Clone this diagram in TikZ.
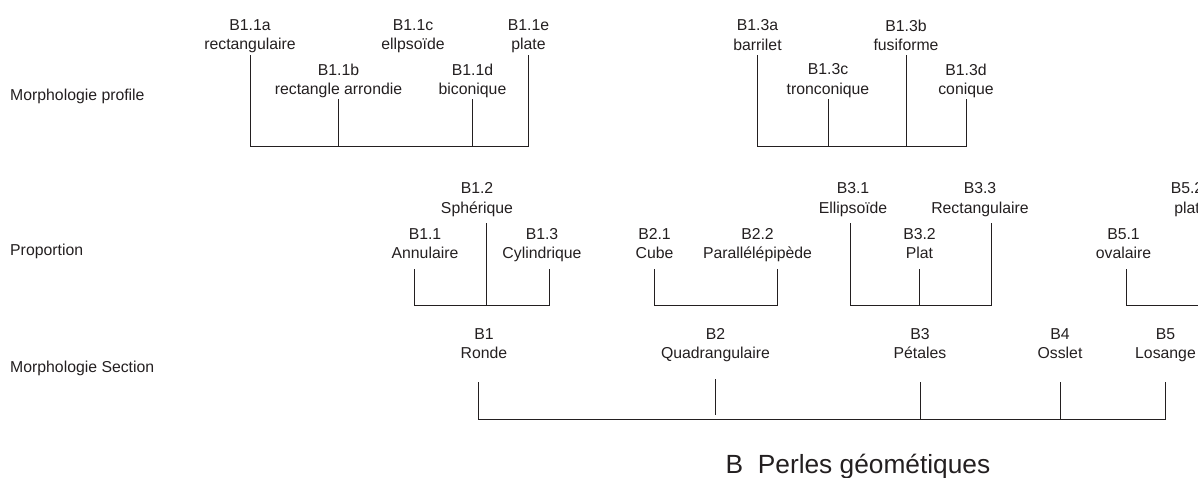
\documentclass[tikz,border=0pt]{standalone}
\usepackage{fontspec}
\setmainfont{Liberation Sans}
\usepackage{tikz}
\usetikzlibrary{calc}
\newcommand{\perlefont}{\fontsize{15.8}{19.5}\selectfont}
\newcommand{\titrefont}{\fontsize{26.3}{30}\selectfont}
\definecolor{encre}{RGB}{35,31,32}
\tikzstyle{rowlabel} =
[anchor=base west, inner sep=0pt, font=\perlefont, text=encre]
\tikzstyle{leaf} =
[anchor=north, inner sep=0pt, align=center, font=\perlefont, text=encre]
\tikzstyle{titre} =
[anchor=base, inner sep=0pt, font=\titrefont, text=encre]
\tikzstyle{stem} = [draw=encre, line width=0.9pt]

\begin{document}
\begin{tikzpicture}[x=1pt, y=-1pt]
  \useasboundingbox (0,0) rectangle (1198,477);
  \clip (0,0) rectangle (1198,477);
  % row labels
  \node [rowlabel] (lprofil) at (10,100.7) {Morphologie profile};
  \node [rowlabel] (lprop) at (10,255.7) {Proportion};
  \node [rowlabel] (lsection) at (10,372) {Morphologie Section};
  %
  % morphologie profile nodes
  \node [leaf] (mp11a) at (250,19.4) {B1.1a\\rectangulaire};
  \node [leaf] (mp11b) at (338.5,63.7) {B1.1b\\rectangle arrondie};
  \node [leaf] (mp11c) at (413,19.4) {B1.1c\\ellpsoïde};
  \node [leaf] (mp11d) at (472.5,63.7) {B1.1d\\biconique};
  \node [leaf] (mp11e) at (528.5,19.4) {B1.1e\\plate};
  \node [leaf] (mp13a) at (757.5,19.4) {B1.3a\\barrilet};
  \node [leaf] (mp13c) at (828,63.7) {B1.3c\\tronconique};
  \node [leaf] (mp13b) at (906,19.4) {B1.3b\\fusiforme};
  \node [leaf] (mp13d) at (966,63.7) {B1.3d\\conique};
  \coordinate (mphi) at (0,55);
  \coordinate (mplo) at (0,99);
  \coordinate (mpbar) at (0,146);
  % morphologie profile edges
  \path [stem] (mp11a |- mphi) -- (mp11a |- mpbar) -- (mp11e |- mpbar) -- (mp11e |- mphi);
  \path [stem] (mp11b |- mplo) -- (mp11b |- mpbar);
  \path [stem] (mp11d |- mplo) -- (mp11d |- mpbar);
  \path [stem] (mp13a |- mphi) -- (mp13a |- mpbar) -- (mp13d |- mpbar) -- (mp13d |- mplo);
  \path [stem] (mp13c |- mplo) -- (mp13c |- mpbar);
  \path [stem] (mp13b |- mphi) -- (mp13b |- mpbar);
  %
  % proportion nodes
  \node [leaf] (pr12) at (477,182.7) {B1.2\\Sphérique};
  \node [leaf] (pr11) at (425,228) {B1.1\\Annulaire};
  \node [leaf] (pr13) at (542,228) {B1.3\\Cylindrique};
  \node [leaf] (pr21) at (654.5,228) {B2.1\\Cube};
  \node [leaf] (pr22) at (757.5,228) {B2.2\\Parallélépipède};
  \node [leaf] (pr31) at (853,182.7) {B3.1\\Ellipsoïde};
  \node [leaf] (pr32) at (919.5,228) {B3.2\\Plat};
  \node [leaf] (pr33) at (980,182.7) {B3.3\\Rectangulaire};
  \node [leaf] (pr51) at (1123.5,228) {B5.1\\ovalaire};
  \node [leaf] (pr52) at (1187,182.7) {B5.2\\plat};
  \coordinate (prhi) at (0,223.3);
  \coordinate (prlo) at (0,269);
  \coordinate (prbar) at (0,305);
  \coordinate (prcut) at (1198,305);
  % proportion edges
  \path [stem] ($(pr11 |- prlo)+(-11,0)$) -- ($(pr11 |- prbar)+(-11,0)$)
    -- ($(pr13 |- prbar)+(7,0)$) -- ($(pr13 |- prlo)+(7,0)$);
  \path [stem] ($(pr12 |- prhi)+(9,0)$) -- ($(pr12 |- prbar)+(9,0)$);
  \path [stem] (pr21 |- prlo) -- (pr21 |- prbar)
    -- ($(pr22 |- prbar)+(19.5,0)$) -- ($(pr22 |- prlo)+(19.5,0)$);
  \path [stem] ($(pr31 |- prhi)+(-3,0)$) -- ($(pr31 |- prbar)+(-3,0)$)
    -- ($(pr33 |- prbar)+(11,0)$) -- ($(pr33 |- prhi)+(11,0)$);
  \path [stem] (pr32 |- prlo) -- (pr32 |- prbar);
  \path [stem] ($(pr51 |- prlo)+(2.5,0)$) -- ($(pr51 |- prbar)+(2.5,0)$) -- (prcut);
  %
  % morphologie section nodes
  \node [leaf] (ms1) at (484,328) {B1\\Ronde};
  \node [leaf] (ms2) at (715.5,328) {B2\\Quadrangulaire};
  \node [leaf] (ms3) at (920,328) {B3\\Pétales};
  \node [leaf] (ms4) at (1060,328) {B4\\Osslet};
  \node [leaf] (ms5) at (1165.5,328) {B5\\Losange};
  \coordinate (mshi) at (0,382);
  \coordinate (msbar) at (0,419.3);
  % morphologie section edges
  \path [stem] ($(ms1 |- mshi)+(-6,0)$) -- ($(ms1 |- msbar)+(-6,0)$)
    -- (ms5 |- msbar) -- (ms5 |- mshi);
  \path [stem, shorten >=4.3pt] ($(ms2 |- mshi)+(0,-3)$) -- (ms2 |- msbar);
  \path [stem] (ms3 |- mshi) -- (ms3 |- msbar);
  \path [stem] (ms4 |- mshi) -- (ms4 |- msbar);
  %
  \node [titre] (titre) at (858,473.3) {B\ \ Perles géométiques};
\end{tikzpicture}
\end{document}
